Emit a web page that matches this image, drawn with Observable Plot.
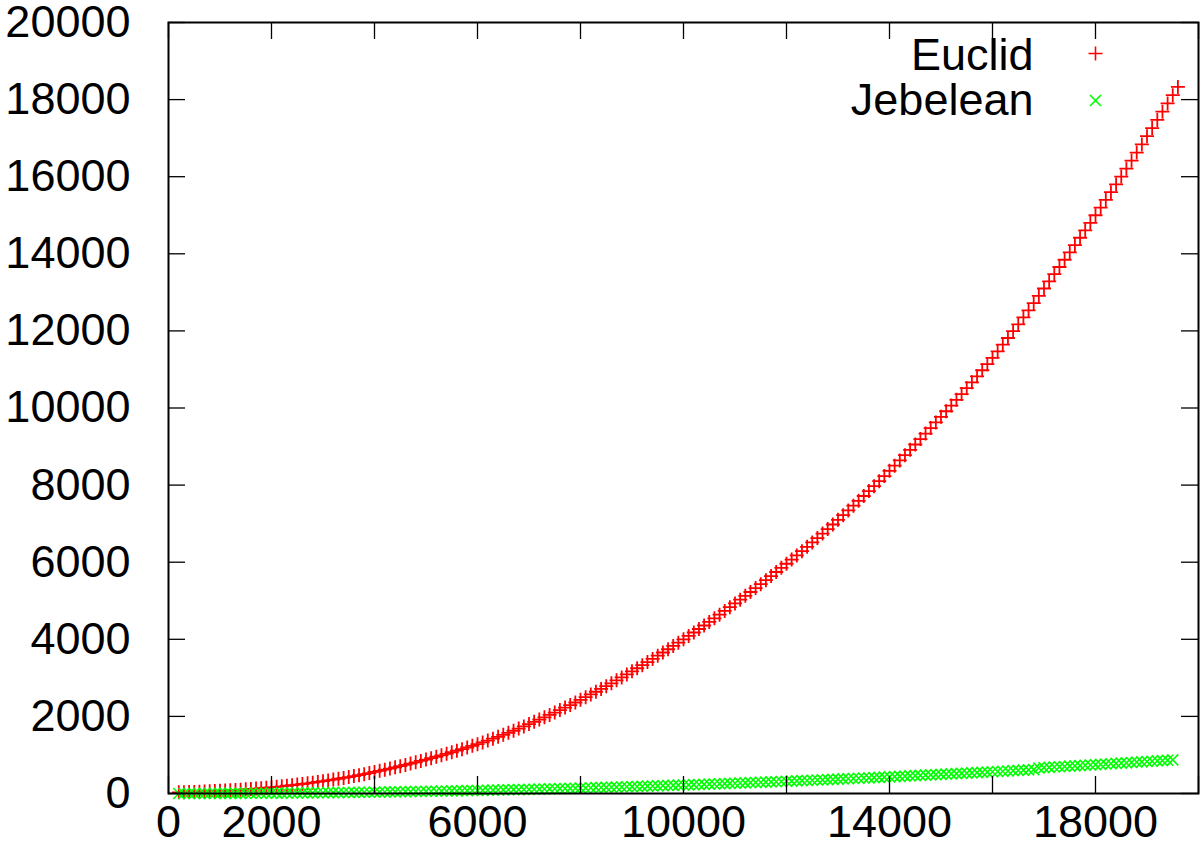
<!DOCTYPE html>
<html>
<head>
<meta charset="utf-8">
<script src="https://cdn.jsdelivr.net/npm/d3@7"></script>
<script src="https://cdn.jsdelivr.net/npm/@observablehq/plot@0.6"></script>
<style>
  html, body { margin: 0; padding: 0; background: #fff; }
  #chart svg { display: block; }
</style>
</head>
<body>
<div id="chart"></div>
<script>
// ---- data ----
const sizes = [
  200,300,400,500,600,700,800,900,1000,
  1100,1200,1300,1400,1500,1600,1700,1800,1900,2000,
  2100,2200,2300,2400,2500,2600,2700,2800,2900,3000,
  3100,3200,3300,3400,3500,3600,3700,3800,3900,4000,
  4100,4200,4300,4400,4500,4600,4700,4800,4900,5000,
  5100,5200,5300,5400,5500,5600,5700,5800,5900,6000,
  6100,6200,6300,6400,6500,6600,6700,6800,6900,7000,
  7100,7200,7300,7400,7500,7600,7700,7800,7900,8000,
  8100,8200,8300,8400,8500,8600,8700,8800,8900,9000,
  9100,9200,9300,9400,9500,9600,9700,9800,9900,10000,
  10100,10200,10300,10400,10500,10600,10700,10800,10900,11000,
  11100,11200,11300,11400,11500,11600,11700,11800,11900,12000,
  12100,12200,12300,12400,12500,12600,12700,12800,12900,13000,
  13100,13200,13300,13400,13500,13600,13700,13800,13900,14000,
  14100,14200,14300,14400,14500,14600,14700,14800,14900,15000,
  15100,15200,15300,15400,15500,15600,15700,15800,15900,16000,
  16100,16200,16300,16400,16500,16600,16700,16800,16900,17000,
  17100,17200,17300,17400,17500,17600,17700,17800,17900,18000,
  18100,18200,18300,18400,18500,18600,18700,18800,18900,19000,
  19100,19200,19300,19400,19500,19600
];

const euclid = [
  30,33,37,41,46,51,57,63,70,
  77,84,92,100,109,118,128,138,149,160,
  173,187,201,216,231,247,264,282,301,320,
  340,361,382,404,427,451,476,502,530,560,
  588,617,647,678,710,742,775,809,844,880,
  916,953,991,1030,1070,1110,1151,1193,1236,1280,
  1326,1373,1421,1471,1522,1574,1628,1683,1740,1800,
  1858,1917,1977,2038,2100,2163,2228,2294,2361,2430,
  2499,2569,2640,2712,2785,2859,2935,3012,3090,3170,
  3249,3329,3410,3492,3575,3658,3742,3827,3913,4000,
  4088,4177,4267,4358,4451,4545,4640,4736,4833,4930,
  5028,5127,5227,5328,5431,5535,5640,5746,5853,5960,
  6068,6177,6287,6399,6512,6626,6742,6859,6978,7100,
  7221,7343,7466,7591,7717,7844,7973,8103,8235,8370,
  8504,8639,8776,8914,9053,9194,9336,9480,9625,9770,
  9916,10063,10212,10362,10514,10667,10822,10979,11138,11300,
  11470,11642,11816,11992,12170,12351,12534,12720,12908,13100,
  13285,13471,13658,13846,14035,14225,14416,14609,14803,15000,
  15198,15397,15598,15800,16004,16209,16416,16625,16836,17050,
  17262,17474,17687,17901,18115,18330
];

const jebelean = [
  0,0,0,1,1,1,1,2,2,
  3,3,4,4,5,6,6,7,8,9,
  10,11,12,13,14,15,16,17,19,20,
  21,23,24,25,27,29,30,32,33,35,
  37,39,41,43,45,47,49,51,53,55,
  57,59,62,64,67,69,71,74,77,79,
  82,85,87,90,93,96,99,102,105,108,
  111,114,117,120,124,127,130,134,137,141,
  144,148,152,155,159,163,167,170,174,178,
  182,186,190,194,199,203,207,211,216,220,
  224,229,233,238,243,247,252,257,261,266,
  271,276,281,286,291,296,301,306,312,317,
  322,327,333,338,344,349,355,360,366,372,
  378,383,389,395,401,407,413,419,425,431,
  437,444,450,456,463,469,475,482,488,495,
  502,508,515,522,529,535,542,549,556,563,
  570,577,585,592,599,606,614,621,663,671,
  678,686,693,701,709,716,724,732,740,748,
  756,764,772,780,788,796,804,813,821,829,
  838,846,854,863,872
];

const seriesNames = ["Euclid", "Jebelean"];
const seriesColors = ["#ff0000", "#00ff00"];
const xTicks = [0,2000,4000,6000,8000,10000,12000,14000,16000,18000,20000];
const xTickLabels = [0,2000,6000,10000,14000,18000];
const yTicks = [0,2000,4000,6000,8000,10000,12000,14000,16000,18000,20000];

// ---- build ----
const euclidData = euclid.map((v, i) => ({n: sizes[i], t: v}));
const jebeleanData = jebelean.map((v, i) => ({n: sizes[i], t: v}));

// gnuplot-like stroke symbols; r = half-length of the arms
const plusSym = {draw(ctx, size) { const r = Math.sqrt(size / Math.PI);
  ctx.moveTo(-r, 0); ctx.lineTo(r, 0); ctx.moveTo(0, -r); ctx.lineTo(0, r); }};
const timesSym = {draw(ctx, size) { const r = Math.sqrt(size / Math.PI);
  ctx.moveTo(-r, -r); ctx.lineTo(r, r); ctx.moveTo(-r, r); ctx.lineTo(r, -r); }};

const W = 1200, H = 848, ML = 168, MR = 2, MT = 22, MB = 55;
const PW = W - ML - MR, PH = H - MT - MB, TICK = 17;
const font = "'Liberation Sans', Arial, Helvetica, sans-serif";

const chart = Plot.plot({
  width: W, height: H,
  marginLeft: ML, marginRight: MR, marginTop: MT, marginBottom: MB,
  style: {fontFamily: font, fontSize: "45px", background: "#fff", color: "#000"},
  x: {domain: [0, 20000], label: null},
  y: {domain: [0, 20000], label: null},
  marks: [
    Plot.dot(euclidData, {x: "n", y: "t", symbol: plusSym, r: 7, fill: "none", stroke: seriesColors[0], strokeWidth: 1.8}),
    Plot.dot(jebeleanData, {x: "n", y: "t", symbol: timesSym, r: 5.5, fill: "none", stroke: seriesColors[1], strokeWidth: 1.6}),
    // inward ticks on all four sides
    Plot.tickX(xTicks, {x: d => d, insetTop: PH - TICK, stroke: "#000", strokeWidth: 1.3}),
    Plot.tickX(xTicks, {x: d => d, insetBottom: PH - TICK, stroke: "#000", strokeWidth: 1.3}),
    Plot.tickY(yTicks, {y: d => d, insetRight: PW - TICK, stroke: "#000", strokeWidth: 1.3}),
    Plot.tickY(yTicks, {y: d => d, insetLeft: PW - TICK, stroke: "#000", strokeWidth: 1.3}),
    Plot.axisX({ticks: xTickLabels, tickSize: 0, tickPadding: 12, tickFormat: d => String(d), label: null, fontSize: 45}),
    Plot.axisY({ticks: yTicks, tickSize: 0, tickPadding: 38, tickFormat: d => String(d), label: null, fontSize: 45}),
    Plot.frame({stroke: "#000", strokeWidth: 2}),
    // legend (inside top-right)
    Plot.text([seriesNames[0]], {text: d => d, frameAnchor: "top-right", textAnchor: "end", lineAnchor: "middle", dx: -165, dy: 33, fontSize: 45, fill: "#000"}),
    Plot.text([seriesNames[1]], {text: d => d, frameAnchor: "top-right", textAnchor: "end", lineAnchor: "middle", dx: -165, dy: 78, fontSize: 45, fill: "#000"}),
    Plot.dot([seriesNames[0]], {frameAnchor: "top-right", dx: -103, dy: 31, symbol: plusSym, r: 7, fill: "none", stroke: seriesColors[0], strokeWidth: 1.6}),
    Plot.dot([seriesNames[1]], {frameAnchor: "top-right", dx: -103, dy: 78, symbol: timesSym, r: 5.5, fill: "none", stroke: seriesColors[1], strokeWidth: 1.6})
  ]
});
document.getElementById("chart").appendChild(chart);
</script>
</body>
</html>
